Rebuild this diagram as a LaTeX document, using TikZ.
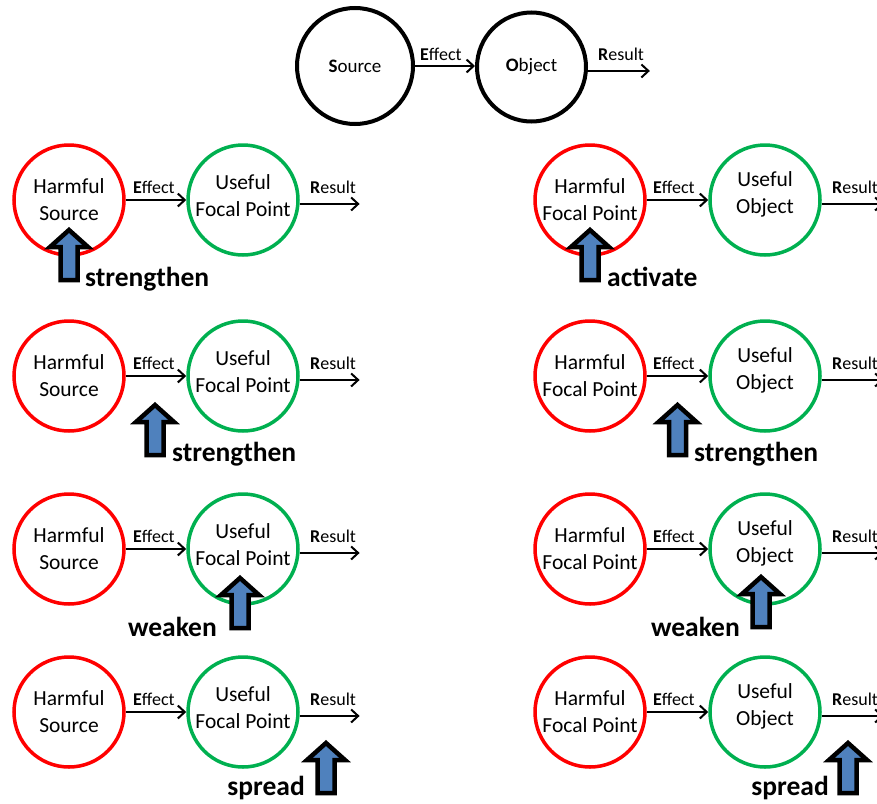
\documentclass[tikz,border=0pt]{standalone}
\usepackage{fontspec}
\setmainfont{Carlito}
\usetikzlibrary{arrows.meta,calc}

\definecolor{harm}{RGB}{255,0,0}
\definecolor{good}{RGB}{0,176,80}
\definecolor{push}{RGB}{79,129,189}

\tikzset{
  harmcirc/.style={circle, draw=harm, line width=3.5pt, minimum size=110pt, inner sep=0pt},
  goodcirc/.style={circle, draw=good, line width=3.5pt, minimum size=110pt, inner sep=0pt},
  blackcirc/.style={circle, draw=black, line width=4pt, inner sep=0pt,
    font=\fontsize{19}{22}\selectfont},
  intext/.style={font=\fontsize{21.5}{27}\selectfont, align=center, inner sep=0pt},
  flow/.style={line width=2pt, -{Straight Barb[length=7pt,width=13pt]}},
  flowlbl/.style={font=\fontsize{18}{20}\selectfont, anchor=base west, inner sep=0pt},
  actlbl/.style={font=\fontsize{27.5}{30}\selectfont\bfseries, inner sep=0pt},
  pics/pusharrow/.style={code={
    \draw[line width=4.5pt, fill=push, line join=miter]
      (0,3) -- (19,20) -- (8.5,20) -- (8.5,53) -- (-8.5,53) -- (-8.5,20) -- (-19,20) -- cycle;
  }},
}

\begin{document}
\begin{tikzpicture}[x=1pt,y=-1pt]
  \useasboundingbox (0,0) rectangle (877,803);
  \clip (0,0) rectangle (877,803);

  % generic model: Source -> Object
  \node[blackcirc, minimum size=116pt] (src) at (355,66) {\textbf{S}ource};
  \node[blackcirc, minimum size=109pt] (obj) at (531.5,67) {\textbf{O}bject};
  \draw[flow] (src) -- (src -| obj.west);
  \node[flowlbl] (eff0) at (420,60) {\textbf{E}ffect};
  \draw[flow] (obj.-4) -- ++(62,0);
  \node[flowlbl] (res0) at (598,60) {\textbf{R}esult};

  % four rows, two columns
  \foreach \r/\y in {1/200, 2/376, 3/549, 4/712} {
    % left column
    \node[harmcirc] (hL\r) at (69,\y) {};
    \node[intext] (hLt\r) at (69,\y) {Harmful\\Source};
    \node[goodcirc] (uL\r) at (243,\y) {};
    \node[intext] (uLt\r) at (243,\y-4.5) {Useful\\Focal Point};
    \draw[flow] (hL\r) -- (uL\r);
    \draw[flow] (uL\r.-4) -- ++(60,0);
    \node[flowlbl] (eL\r) at (133,\y-7) {\textbf{E}ffect};
    \node[flowlbl] (rL\r) at (310,\y-7) {\textbf{R}esult};
    % right column
    \node[harmcirc] (hR\r) at (590,\y) {};
    \node[intext] (hRt\r) at (590,\y) {Harmful\\Focal Point};
    \node[goodcirc] (uR\r) at (765,\y) {};
    \node[intext] (uRt\r) at (765,\y-6) {Useful\\Object};
    \draw[flow] (hR\r) -- (uR\r);
    \draw[flow] (uR\r.-4) -- ++(62,0);
    \node[flowlbl] (eR\r) at (653,\y-7) {\textbf{E}ffect};
    \node[flowlbl] (rR\r) at (832,\y-7) {\textbf{R}esult};
  }

  % interventions
  \pic at (69,227) {pusharrow};
  \node[actlbl, anchor=base west] (a1) at (85,286) {strengthen};
  \pic at (590,227) {pusharrow};
  \node[actlbl, anchor=base west] (a2) at (607,286) {activate};

  \pic at (155,402) {pusharrow};
  \node[actlbl, anchor=base west] (a3) at (172,461) {strengthen};
  \pic at (677.5,402) {pusharrow};
  \node[actlbl, anchor=base west] (a4) at (694,461) {strengthen};

  \pic at (240,575) {pusharrow};
  \node[actlbl, anchor=base east] (a5) at (217,636) {weaken};
  \pic at (761,574) {pusharrow};
  \node[actlbl, anchor=base east] (a6) at (740,636) {weaken};

  \pic at (326,740) {pusharrow};
  \node[actlbl, anchor=base east] (a7) at (305,795) {spread};
  \pic at (848,740) {pusharrow};
  \node[actlbl, anchor=base east] (a8) at (829,795) {spread};
\end{tikzpicture}
\end{document}
